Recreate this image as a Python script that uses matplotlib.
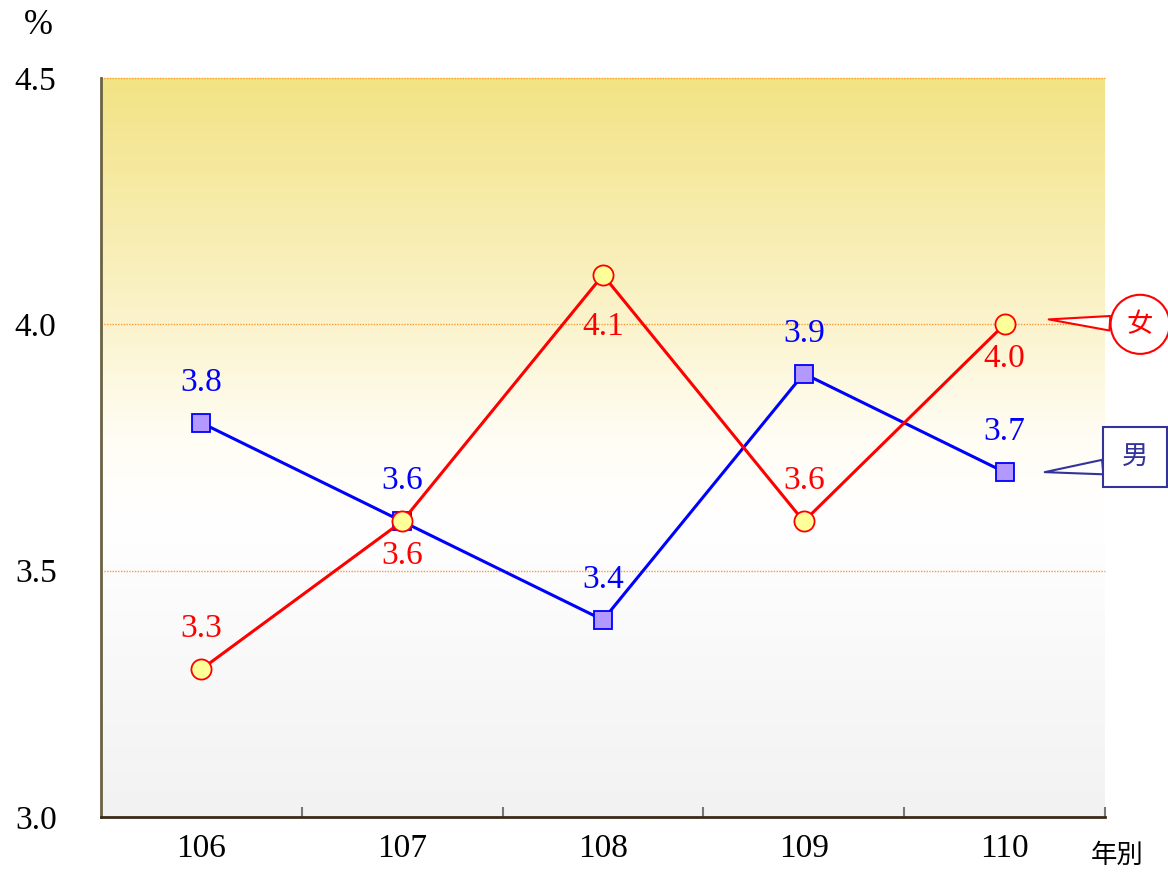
import numpy as np
import matplotlib
matplotlib.use("Agg")
import matplotlib.pyplot as plt
from matplotlib.colors import LinearSegmentedColormap

plt.rcParams['font.family'] = ['Liberation Serif', 'Noto Sans CJK TC', 'DejaVu Sans']

years = ['106', '107', '108', '109', '110']
female = [3.3, 3.6, 4.1, 3.6, 4.0]
male = [3.8, 3.6, 3.4, 3.9, 3.7]

# label offset (points) for each data label: + above, - below
female_off = [29, -25, -37, 29, -25]
male_off = [29, 29, 29, 29, 29]

fig = plt.figure(figsize=(11.68, 8.72), dpi=100)
ax = fig.add_axes([101/1168, 1-817/872, 1004/1168, 739/872])

x = np.arange(len(years))

# gradient background
cmap = LinearSegmentedColormap.from_list('bg', [
    (0.0, '#F2F2F2'), (0.40, '#FFFFFF'), (0.52, '#FFFDF3'),
    (0.67, '#FBF3CC'), (1.0, '#F2E384')])
grad = np.linspace(0, 1, 256).reshape(-1, 1)
ax.imshow(grad, extent=[-0.5, 4.5, 3.0, 4.5], origin='lower', aspect='auto',
          cmap=cmap, zorder=0)

for g in [3.5, 4.0, 4.5]:
    ax.axhline(g, color='#FF9933', lw=1.0, ls=(0, (1, 1)), zorder=1, clip_on=False)

ax.plot(x, male, color='#0000FF', lw=2.2, marker='s', ms=13,
        mfc='#B399FF', mec='#0000FF', mew=1.3, zorder=3)
ax.plot(x, female, color='#FF0000', lw=2.2, marker='o', ms=14.5,
        mfc='#FFFF99', mec='#FF0000', mew=1.3, zorder=4)

for i in range(len(years)):
    ax.annotate(f'{male[i]:.1f}', (x[i], male[i]), xytext=(0, male_off[i]),
                textcoords='offset points', ha='center', va='center',
                color='#0000FF', fontsize=24, zorder=5)
    ax.annotate(f'{female[i]:.1f}', (x[i], female[i]), xytext=(0, female_off[i]),
                textcoords='offset points', ha='center', va='center',
                color='#FF0000', fontsize=24, zorder=5)

ax.set_xlim(-0.5, 4.5)
ax.set_ylim(3.0, 4.5)
ax.set_xticks(x)
ax.set_xticklabels(years, fontsize=24)
ax.set_xticks([0.5, 1.5, 2.5, 3.5, 4.5], minor=True)
ax.tick_params(axis='x', which='major', length=0, pad=12)
ax.tick_params(axis='x', which='minor', direction='in', length=7, width=1.5, color='#777777')
ax.set_yticks([3.0, 3.5, 4.0, 4.5])
ax.set_yticklabels(['3.0', '3.5', '4.0', '4.5'], fontsize=24, ha='center')
ax.tick_params(axis='y', length=0, pad=47)

for s in ['top', 'right']:
    ax.spines[s].set_visible(False)
ax.spines['left'].set_color('#6B6245')
ax.spines['left'].set_linewidth(2)
ax.spines['bottom'].set_color('#3A2A1A')
ax.spines['bottom'].set_linewidth(2)

fig.text(38/1168, 1-25/872, '%', fontsize=25, ha='center', va='center')
fig.text(1117/1168, 1-856/872, '年別', fontsize=19, ha='center', va='center')

# callout legends
ax.annotate('女', xy=(4.22, female[-1] + 0.01), xytext=(4.675, 4.0),
            ha='center', va='center', color='#FF0000', fontsize=19,
            bbox=dict(boxstyle='circle,pad=0.62', fc='white', ec='#FF0000', lw=1.5),
            arrowprops=dict(arrowstyle='wedge,tail_width=0.55', fc='white',
                            ec='#FF0000', lw=1.5, shrinkA=0, shrinkB=0,
                            relpos=(0, 0.5)),
            annotation_clip=False, zorder=6)
ax.annotate('男', xy=(4.2, male[-1]), xytext=(4.65, 3.73),
            ha='center', va='center', color='#333399', fontsize=19,
            bbox=dict(boxstyle='square,pad=0.7', fc='white', ec='#333399', lw=1.5),
            arrowprops=dict(arrowstyle='wedge,tail_width=0.55', fc='white',
                            ec='#333399', lw=1.5, shrinkA=0, shrinkB=0,
                            relpos=(0, 0.15)),
            annotation_clip=False, zorder=6)

fig.savefig('out.png', dpi=100)
